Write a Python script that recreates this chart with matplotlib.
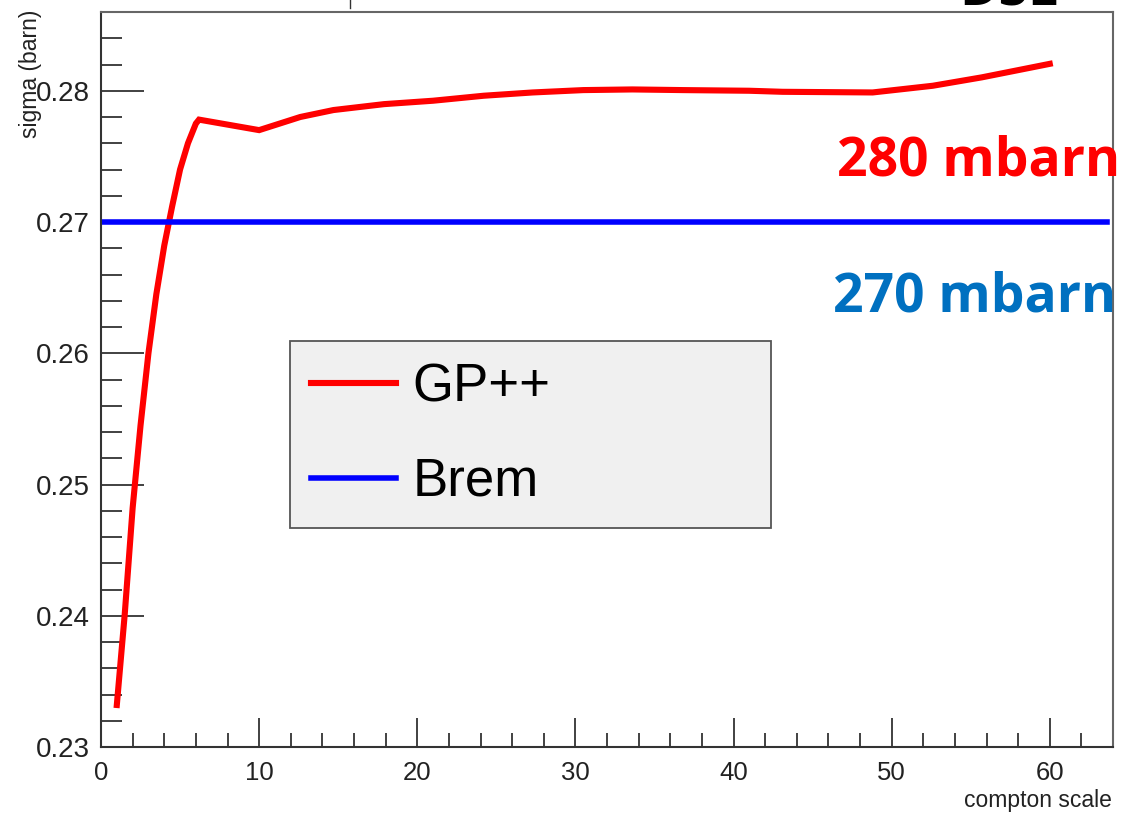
import numpy as np
import matplotlib
matplotlib.use('Agg')
import matplotlib.pyplot as plt
from matplotlib.lines import Line2D

# GP++ cross section vs compton scale
gp_x = [1, 1.5, 2, 2.5, 3, 3.5, 4, 4.5, 5, 5.5, 6, 6.2,
        10, 11.3, 12.6, 14.7, 17.9, 21, 24.2, 27.3, 30.5, 33.6, 36.8,
        41, 43.1, 48.8, 52.6, 55.7, 60]
gp_y = [0.2332, 0.2401, 0.2482, 0.2545, 0.2600, 0.2645, 0.2682, 0.2712, 0.2740, 0.2760, 0.2775, 0.2778,
        0.2770, 0.2775, 0.2780, 0.27853, 0.27898, 0.27924, 0.27962, 0.27987, 0.28005, 0.2801, 0.28005,
        0.2800, 0.27992, 0.27987, 0.28038, 0.28102, 0.28205]
brem_x = [0, 63.6]
brem_y = [0.270, 0.270]

xticks = [0, 10, 20, 30, 40, 50, 60]
yticks = [0.23, 0.24, 0.25, 0.26, 0.27, 0.28]

W, H = 1135, 815
fig = plt.figure(figsize=(W/100, H/100), dpi=100)
ax = fig.add_axes([101/W, 1-747/H, (1113-101)/W, (747-12)/H])

ax.plot(gp_x, gp_y, color='#ff0000', lw=4.4, label='GP++', solid_joinstyle='miter')
ax.plot(brem_x, brem_y, color='#0000ff', lw=4.0, label='Brem')

ax.set_xlim(0, 64)
ax.set_ylim(0.23, 0.286)
ax.set_xticks(xticks)
ax.set_xticklabels([str(t) for t in xticks], fontsize=18.5, family='Liberation Sans', color='#222222')
ax.set_yticks(yticks)
ax.set_yticklabels(['%.2f' % t for t in yticks], fontsize=20, family='Liberation Sans', color='#222222')
ax.set_xticks(np.arange(0, 65, 2), minor=True)
ax.set_yticks(np.arange(0.23, 0.2861, 0.002), minor=True)
ax.tick_params(axis='y', which='major', direction='in', length=31, width=1.3, color='#333333', pad=8)
ax.tick_params(axis='y', which='minor', direction='in', length=15, width=1.3, color='#333333')
ax.tick_params(axis='x', which='major', direction='in', length=21, width=1.3, color='#333333', pad=10)
ax.tick_params(axis='x', which='minor', direction='in', length=10, width=1.3, color='#333333')
for s in ['left', 'bottom']:
    ax.spines[s].set_color('#333333')
    ax.spines[s].set_linewidth(1.5)
for s in ['top', 'right']:
    ax.spines[s].set_color('#666666')
    ax.spines[s].set_linewidth(1.5)

leg = ax.legend(loc='upper left', bbox_to_anchor=(290/W, 1-532/H, 481/W, 191/H),
                bbox_transform=fig.transFigure, mode='expand', borderaxespad=0,
                prop={'family': 'Liberation Sans', 'size': 38}, handlelength=1.6,
                handletextpad=0.32, borderpad=0.4, labelspacing=0.85,
                fancybox=False, framealpha=1, facecolor='#f0f0f0', edgecolor='#555555')
leg.get_frame().set_linewidth(1.3)

fig.text(1112/W, 1-807/H, 'compton scale', ha='right', va='baseline', fontsize=16.5,
         family='Liberation Sans', color='#222222')
fig.text(30/W, 1-10/H, 'sigma (barn)', rotation=90, ha='center', va='top', fontsize=16.5,
         family='Liberation Sans', color='#222222')

fig.text(837/W, 1-161/H, '280 mbarn', color='#ff0000', fontsize=38.5, fontweight='bold',
         family='Open Sans', ha='left', va='center')
fig.text(833/W, 1-297/H, '270 mbarn', color='#0070c0', fontsize=38.5, fontweight='bold',
         family='Open Sans', ha='left', va='center')
fig.text(1009/W, 1-6/H, 'DSL', color='black', fontsize=38.5, fontweight='bold',
         family='Open Sans', ha='center', va='baseline')
fig.add_artist(Line2D([350/W, 350/W], [1, 1-8/H], transform=fig.transFigure, color='#333333', lw=1))

fig.savefig('out.png', dpi=100)
